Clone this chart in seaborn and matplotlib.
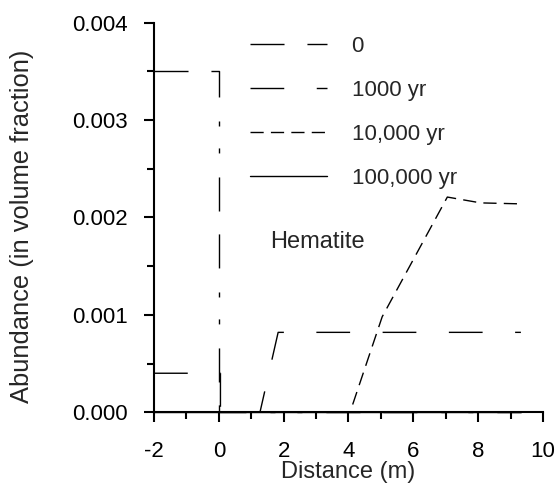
import matplotlib
matplotlib.use("Agg")
import matplotlib.pyplot as plt
import seaborn as sns
import pandas as pd
from matplotlib.ticker import MultipleLocator, FormatStrFormatter

# ---- data ----
x_t0 = [-2.0, 0.0, 0.0, 9.32]
y_t0 = [0.0035, 0.0035, 0.0, 0.0]

x_t1k = [-2.0, 0.05, 0.05, 1.27, 1.83, 9.32]
y_t1k = [0.0004, 0.0004, 0.0, 0.0, 0.00082, 0.00082]

x_t10k = [-2.0, 4.05, 5.04, 7.05, 8.08, 9.32]
y_t10k = [0.0, 0.0, 0.00098, 0.00221, 0.00215, 0.00214]

x_t100k = [-2.0, 9.32]
y_t100k = [0.0, 0.0]

labels = ["0", "1000 yr", "10,000 yr", "100,000 yr"]

sns.set_theme(style="ticks")
plt.rcParams["font.family"] = ["Liberation Sans", "DejaVu Sans"]
plt.rcParams["lines.scale_dashes"] = False

FS = 16
fig = plt.figure(figsize=(5.58, 4.96), dpi=100)
ax = fig.add_axes([0.276, 0.169, 0.697, 0.785])

series = [(x_t0, y_t0), (x_t1k, y_t1k), (x_t10k, y_t10k), (x_t100k, y_t100k)]
dashes = [(0, (24.5, 16.5, 24.5, 17.3, 3.6, 15.8, 3.6, 17.3)),
          (0, (24.3, 23.4)),
          (0, (9.5, 5.2)),
          "-"]

handles = []
for (xs, ys), lab, ls in zip(series, labels, dashes):
    df = pd.DataFrame({"x": xs, "y": ys})
    sns.lineplot(data=df, x="x", y="y", ax=ax, sort=False, estimator=None,
                 color="black", linewidth=1.0, label=lab)
    line = ax.get_lines()[-1]
    line.set_linestyle(ls)
    line.set_clip_on(False)
    handles.append(line)

ax.set_xlim(-2, 10)
ax.set_ylim(0, 0.004)
ax.xaxis.set_major_locator(MultipleLocator(2))
ax.xaxis.set_minor_locator(MultipleLocator(1))
ax.yaxis.set_major_locator(MultipleLocator(0.001))
ax.yaxis.set_minor_locator(MultipleLocator(0.0005))
ax.yaxis.set_major_formatter(FormatStrFormatter("%.3f"))
ax.xaxis.set_major_formatter(FormatStrFormatter("%d"))

for s in ["top", "right"]:
    ax.spines[s].set_visible(False)
for s in ["left", "bottom"]:
    ax.spines[s].set_linewidth(1.5)
    ax.spines[s].set_color("black")
ax.tick_params(which="major", direction="out", length=7, width=1.5,
               labelsize=FS, colors="black")
ax.tick_params(axis="y", which="major", pad=12)
ax.tick_params(axis="x", which="major", pad=14)
ax.tick_params(which="minor", direction="out", length=5, width=1.5, colors="black")

ax.set_xlabel("Distance (m)", fontsize=17, labelpad=-1)
ax.set_ylabel("Abundance (in volume fraction)", fontsize=18.4)
ax.yaxis.set_label_coords(-0.308, 0.477)

ax.text(1.58, 0.00175, "Hematite", fontsize=17, va="center", ha="left")

leg = ax.legend(handles=handles, labels=labels, frameon=False, fontsize=FS,
                loc="upper left", bbox_to_anchor=(0.225, 0.99),
                handlelength=3.45, handletextpad=1.1, labelspacing=1.04,
                borderaxespad=0.0)

fig.savefig("out.png", dpi=100)
